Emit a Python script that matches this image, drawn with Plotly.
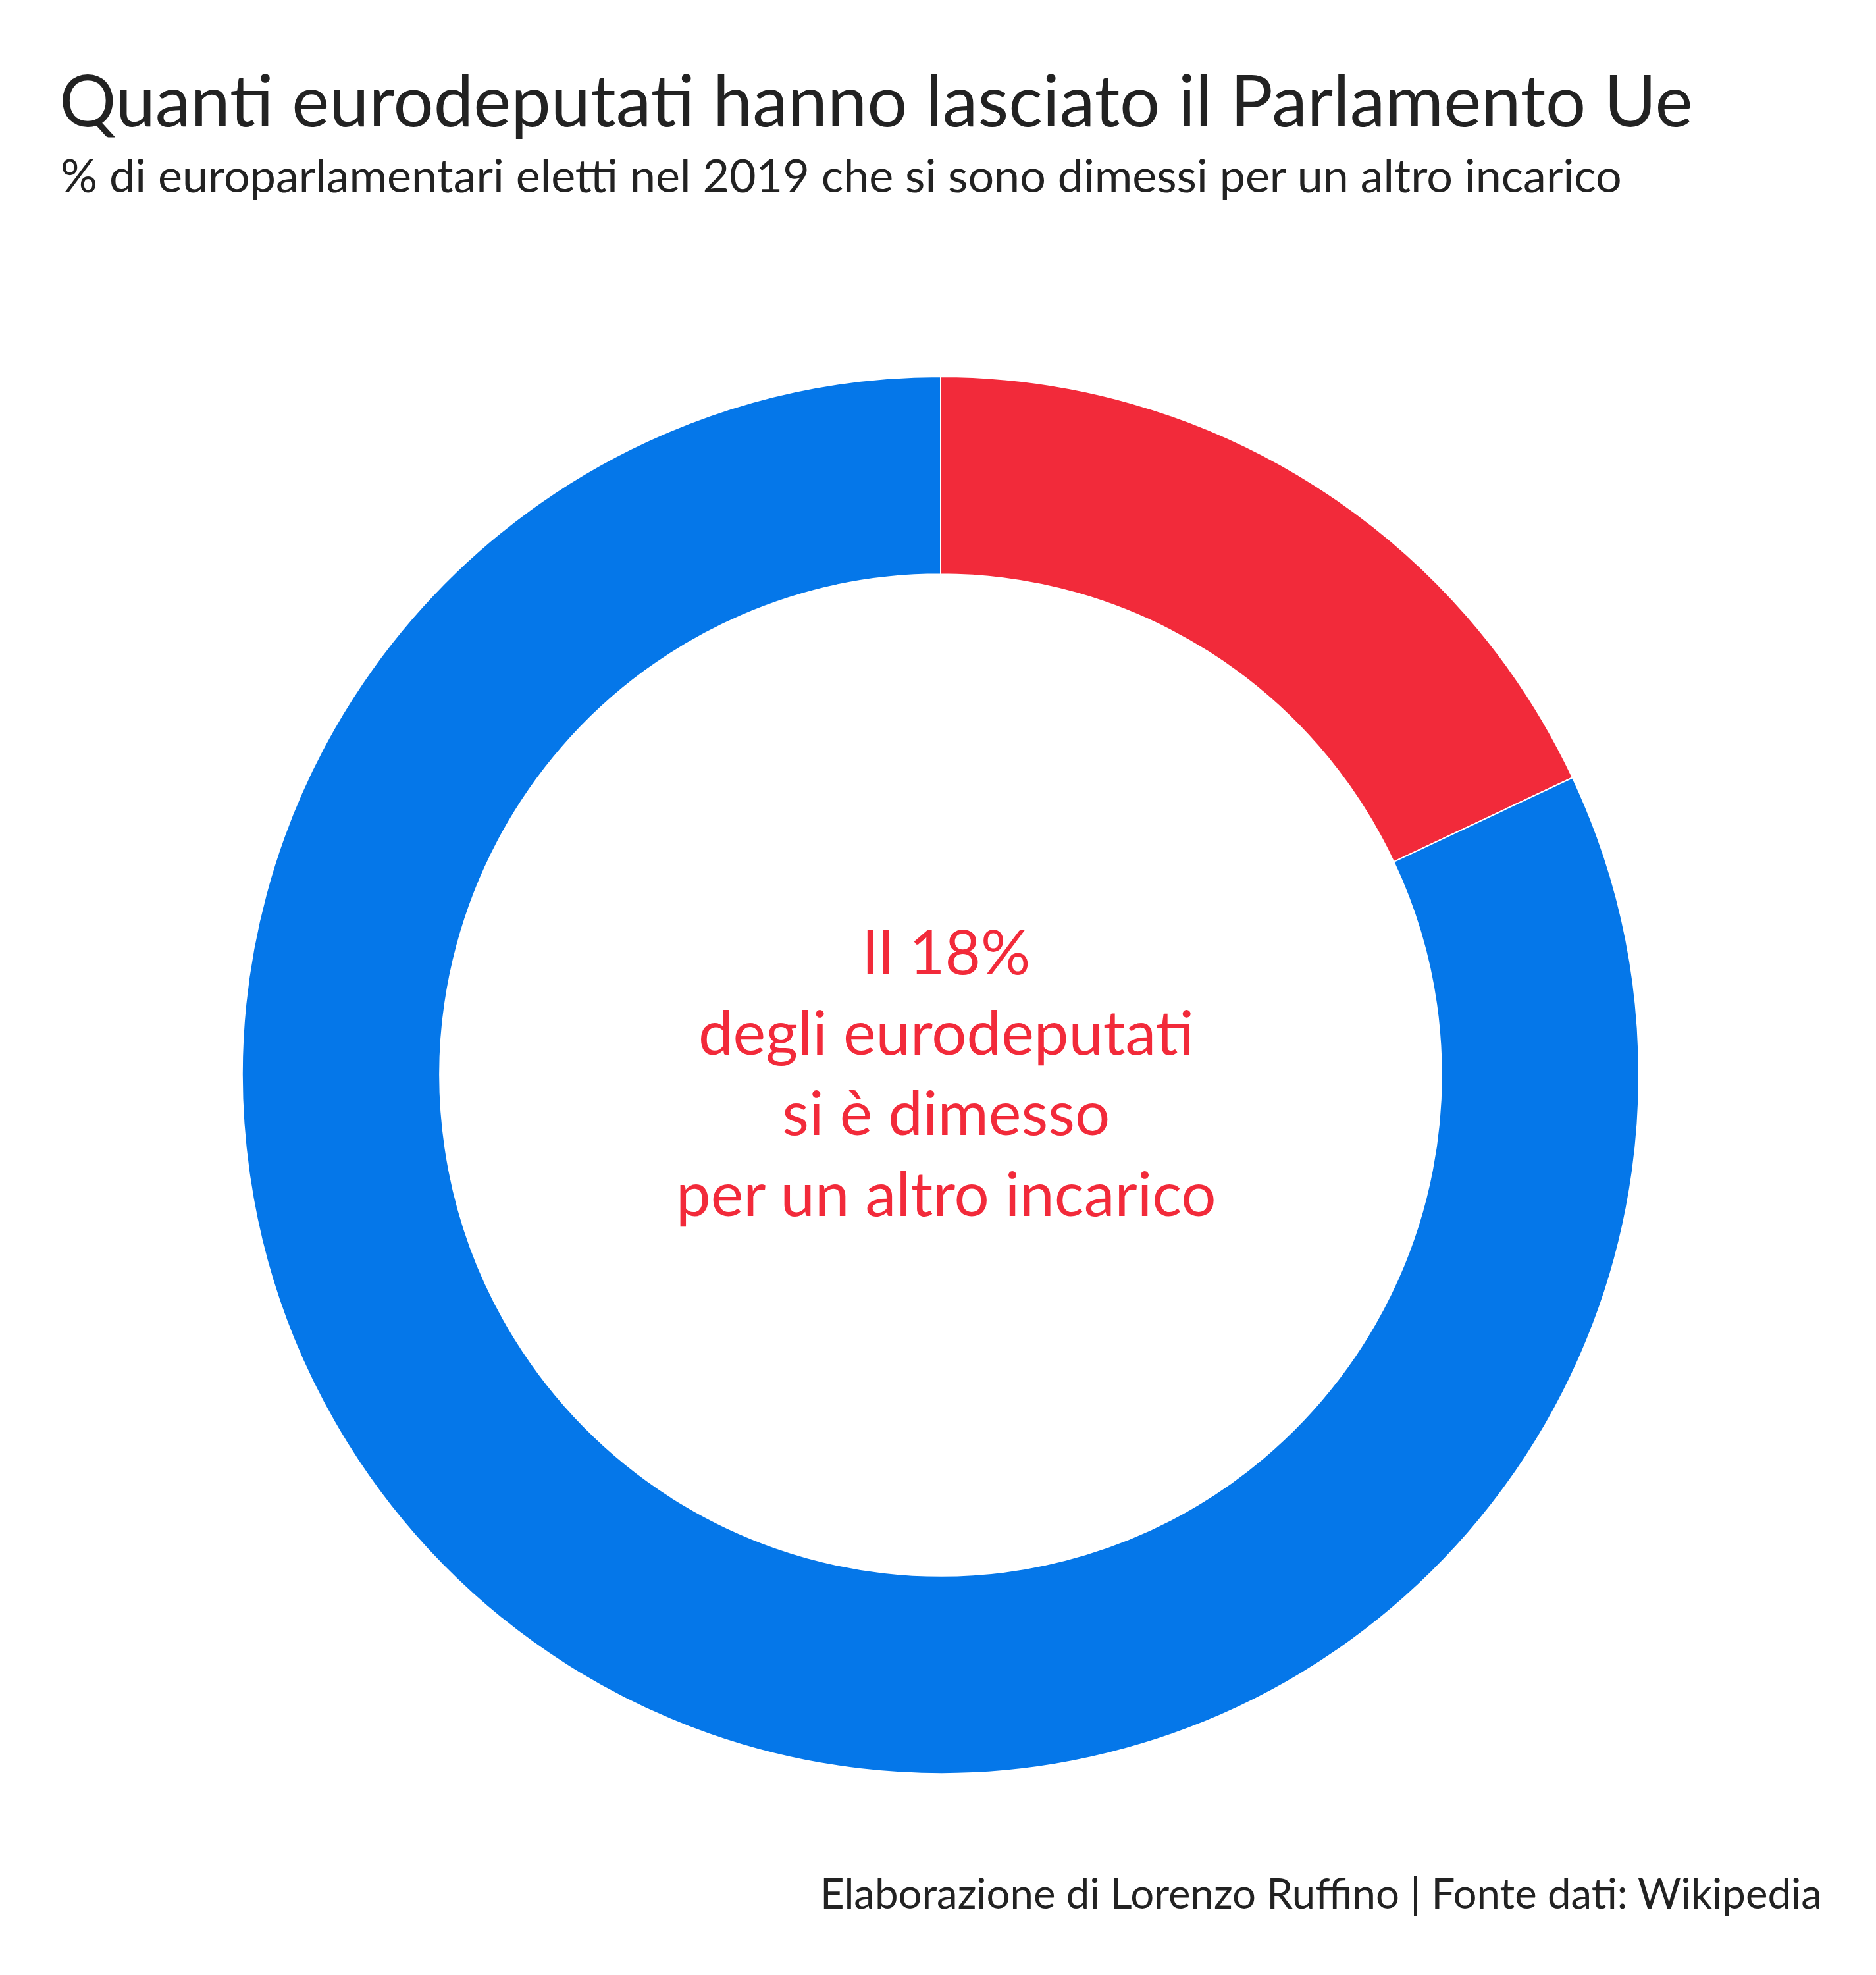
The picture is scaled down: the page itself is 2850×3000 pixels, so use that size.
import plotly.graph_objects as go

labels = ["Dimessi per un altro incarico", "Altri eurodeputati"]
values = [18, 82]
colors = ["#F22A3A", "#0577E9"]

title = "Quanti eurodeputati hanno lasciato il Parlamento Ue"
subtitle = "% di europarlamentari eletti nel 2019 che si sono dimessi per un altro incarico"
center_text = "Il 18%<br>degli eurodeputati<br>si è dimesso<br>per un altro incarico"
footer = "Elaborazione di Lorenzo Ruffino | Fonte dati: Wikipedia"

W, H = 2850, 3000
cx, cy, R = 1421, 1625, 1061
FONT = "Lato"

fig = go.Figure(go.Pie(
    labels=labels, values=values, hole=0.717, sort=False, direction="clockwise",
    rotation=0, textinfo="none", hoverinfo="label+percent",
    marker=dict(colors=colors, line=dict(color="white", width=2)),
    domain=dict(x=[(cx - R) / W, (cx + R) / W], y=[(H - cy - R) / H, (H - cy + R) / H]),
    showlegend=False,
))

fig.update_layout(
    width=W, height=H, margin=dict(l=0, r=0, t=0, b=0),
    paper_bgcolor="white", plot_bgcolor="white",
    font=dict(family=FONT, color="#222222"),
    annotations=[
        dict(text=title, x=80 / W, y=1 - 142 / H, xref="paper", yref="paper",
             xanchor="left", yanchor="middle", showarrow=False,
             font=dict(size=108, color="#222222", family=FONT)),
        dict(text=subtitle, x=82 / W, y=1 - 257 / H, xref="paper", yref="paper",
             xanchor="left", yanchor="middle", showarrow=False,
             font=dict(size=70, color="#222222", family=FONT)),
        dict(text=center_text, x=1429 / W, y=1 - 1619 / H, xref="paper", yref="paper",
             xanchor="center", yanchor="middle", showarrow=False, align="center",
             font=dict(size=94, color="#F22A3A", family=FONT)),
        dict(text=footer, x=2762 / W, y=1 - 2866 / H, xref="paper", yref="paper",
             xanchor="right", yanchor="middle", showarrow=False,
             font=dict(size=63.5, color="#222222", family=FONT)),
    ],
)

fig.write_html("out.html")
